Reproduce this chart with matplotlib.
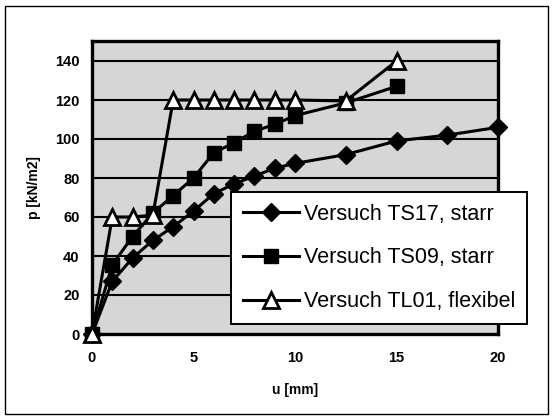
import numpy as np
import matplotlib.pyplot as plt
from matplotlib.patches import Rectangle

plt.rcParams['font.family'] = ['Liberation Sans', 'DejaVu Sans']

# Displacement u [mm]
u_ts17 = [0, 1, 2, 3, 4, 5, 6, 7, 8, 9, 10, 12.5, 15, 17.5, 20]
p_ts17 = [0, 27, 39, 48, 55, 63, 72, 77, 81, 85, 87.5, 92, 99, 102, 106]

u_ts09 = [0, 1, 2, 3, 4, 5, 6, 7, 8, 9, 10, 12.5, 15]
p_ts09 = [0, 35.5, 50, 62, 71, 80, 93, 98, 104, 107.5, 112, 118.5, 127]

u_tl01 = [0, 1, 2, 3, 4, 5, 6, 7, 8, 9, 10, 12.5, 15]
p_tl01 = [0, 60, 60, 61, 120, 120, 120, 120, 120, 120, 120, 119.5, 140]

labels = ["Versuch TS17, starr", "Versuch TS09, starr", "Versuch TL01, flexibel"]
xticks = [0, 5, 10, 15, 20]
yticks = [0, 20, 40, 60, 80, 100, 120, 140]

fig = plt.figure(figsize=(5.52, 4.19), dpi=100)
ax = fig.add_axes([92/552, 1-334/419, 406/552, 292.5/419])
ax.set_facecolor('#d6d6d6')

ax.plot(u_ts17, p_ts17, color='black', lw=2.2, marker='D', ms=9,
        mfc='black', mec='black', clip_on=False, zorder=3, label=labels[0])
ax.plot(u_ts09, p_ts09, color='black', lw=2.2, marker='s', ms=10.5,
        mfc='black', mec='black', clip_on=False, zorder=4, label=labels[1])
ax.plot(u_tl01, p_tl01, color='black', lw=2.2, marker='^', ms=11,
        mfc='white', mec='black', mew=2, clip_on=False, zorder=5, label=labels[2])

ax.set_xlim(0, 20)
ax.set_ylim(0, 150)
ax.set_xticks(xticks)
ax.set_yticks(yticks)
for y in yticks[1:]:
    ax.axhline(y, color='black', lw=1.5, zorder=1)

for s in ax.spines.values():
    s.set_linewidth(2.4)
ax.tick_params(axis='both', length=0, labelsize=10.5)
ax.tick_params(axis='x', pad=12)
ax.tick_params(axis='y', pad=9)
for t in ax.get_xticklabels() + ax.get_yticklabels():
    t.set_fontweight('bold')

ax.set_xlabel("u [mm]", fontsize=10, fontweight='bold', labelpad=13)
ax.set_ylabel("p [kN/m2]", fontsize=10, fontweight='bold', labelpad=10)

leg = ax.legend(loc='upper left', bbox_to_anchor=(231/552, 1-192/419),
                bbox_transform=fig.transFigure, fontsize=15.5,
                frameon=True, fancybox=False, framealpha=1, edgecolor='black',
                handlelength=2.6, handletextpad=0.25, labelspacing=1.05,
                borderpad=0.55, borderaxespad=0)
leg.get_frame().set_linewidth(1.4)
leg.set_zorder(6)

# outer border of the scanned figure
fig.patches.append(Rectangle((5/552, 5/419), 543/552, 408/419, transform=fig.transFigure,
                             fill=False, edgecolor='black', lw=1.0))

fig.savefig("out.png", dpi=100)
